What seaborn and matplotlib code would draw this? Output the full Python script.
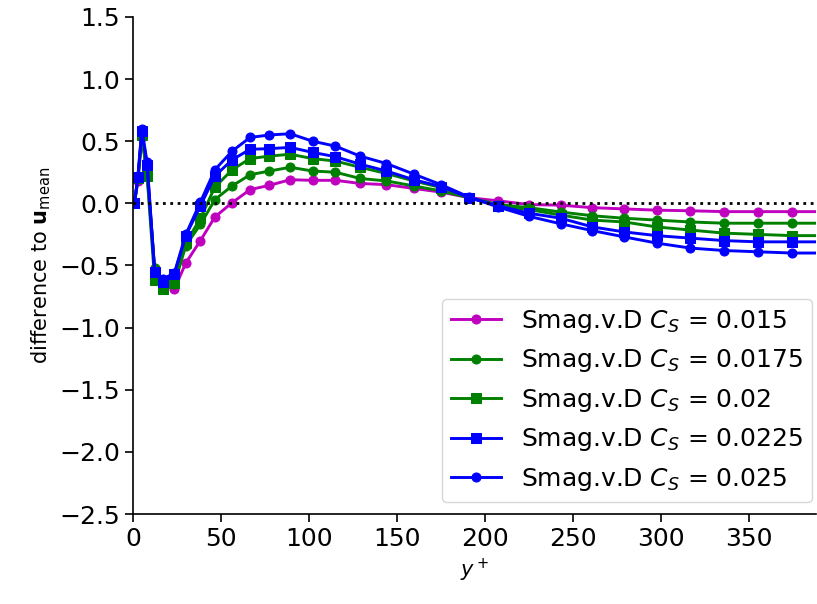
import matplotlib
matplotlib.use("Agg")
import matplotlib.pyplot as plt
import seaborn as sns
import pandas as pd

y_plus = [0.8, 2.8, 5.0, 8.0, 12.3, 17.0, 23.5, 30.0, 38.3, 46.5, 56.3, 66.5, 77.5, 89.3,
          102.0, 115.0, 129.0, 144.0, 159.5, 175.0, 191.0, 207.5, 225.0, 243.0, 261.0,
          279.0, 297.5, 316.5, 336.0, 355.0, 374.5, 394.0]

cs_0150 = [0.0, 0.18, 0.53, 0.25, -0.55, -0.63, -0.69, -0.48, -0.30, -0.11, 0.005, 0.11, 0.145, 0.19,
           0.185, 0.185, 0.16, 0.15, 0.12, 0.09, 0.045, 0.02, -0.01, -0.015, -0.035,
           -0.045, -0.055, -0.06, -0.067, -0.067, -0.067, -0.067]
cs_0175 = [0.0, 0.20, 0.55, 0.25, -0.52, -0.62, -0.65, -0.34, -0.17, 0.03, 0.14, 0.23, 0.26, 0.29,
           0.26, 0.25, 0.20, 0.18, 0.14, 0.10, 0.045, -0.01, -0.035, -0.07, -0.10,
           -0.12, -0.135, -0.15, -0.16, -0.16, -0.16, -0.16]
cs_0200 = [0.0, 0.20, 0.55, 0.22, -0.62, -0.69, -0.64, -0.32, -0.12, 0.13, 0.27, 0.36, 0.38, 0.395,
           0.36, 0.34, 0.29, 0.24, 0.18, 0.127, 0.045, -0.02, -0.05, -0.095, -0.135,
           -0.15, -0.19, -0.215, -0.24, -0.25, -0.26, -0.26]
cs_0225 = [0.0, 0.21, 0.58, 0.31, -0.55, -0.63, -0.57, -0.26, -0.02, 0.22, 0.35, 0.435, 0.44, 0.45,
           0.41, 0.375, 0.315, 0.26, 0.19, 0.135, 0.045, -0.02, -0.08, -0.12, -0.19,
           -0.23, -0.26, -0.28, -0.30, -0.31, -0.31, -0.31]
cs_0250 = [0.0, 0.22, 0.60, 0.33, -0.55, -0.61, -0.56, -0.25, 0.01, 0.27, 0.42, 0.53, 0.55, 0.56,
           0.50, 0.46, 0.38, 0.32, 0.235, 0.15, 0.05, -0.03, -0.105, -0.165, -0.22,
           -0.27, -0.32, -0.36, -0.38, -0.39, -0.40, -0.40]

labels = ["Smag.v.D $C_S$ = 0.015", "Smag.v.D $C_S$ = 0.0175", "Smag.v.D $C_S$ = 0.02",
          "Smag.v.D $C_S$ = 0.0225", "Smag.v.D $C_S$ = 0.025"]
series = [cs_0150, cs_0175, cs_0200, cs_0225, cs_0250]
colors = ["m", "g", "g", "b", "b"]
markers = ["o", "o", "s", "s", "o"]

plt.rcParams["font.size"] = 14
fig = plt.figure(figsize=(8.17, 6.04), dpi=100)
ax = fig.add_axes([0.1628, 0.149, 0.8360, 0.823])

for lab, vals, c, m in zip(labels, series, colors, markers):
    df = pd.DataFrame({"y_plus": y_plus, "diff": vals})
    sns.lineplot(data=df, x="y_plus", y="diff", color=c, marker=m, markersize=6.5,
                 markeredgecolor=c, linewidth=2.1, label=lab, ax=ax, sort=False)

ax.axhline(0.0, color="k", linestyle=":", linewidth=2.0)
ax.set_xlim(0, 388)
ax.set_ylim(-2.5, 1.5)
ax.set_yticks([1.5, 1.0, 0.5, 0.0, -0.5, -1.0, -1.5, -2.0, -2.5])
ax.set_xticks([0, 50, 100, 150, 200, 250, 300, 350])
ax.set_xlabel("$y^+$", fontsize=15)
ax.set_ylabel(r"difference to $\mathbf{u}_{\mathrm{mean}}$", fontsize=15)
ax.tick_params(width=1.2, length=6, labelsize=18)
sns.despine(ax=ax, top=True, right=True)
for s in ax.spines.values():
    s.set_linewidth(1.2)
ax.legend(loc="lower right", fontsize=18, bbox_to_anchor=(1.012, 0.0),
          borderpad=0.35)

fig.savefig("out.png", dpi=100)
